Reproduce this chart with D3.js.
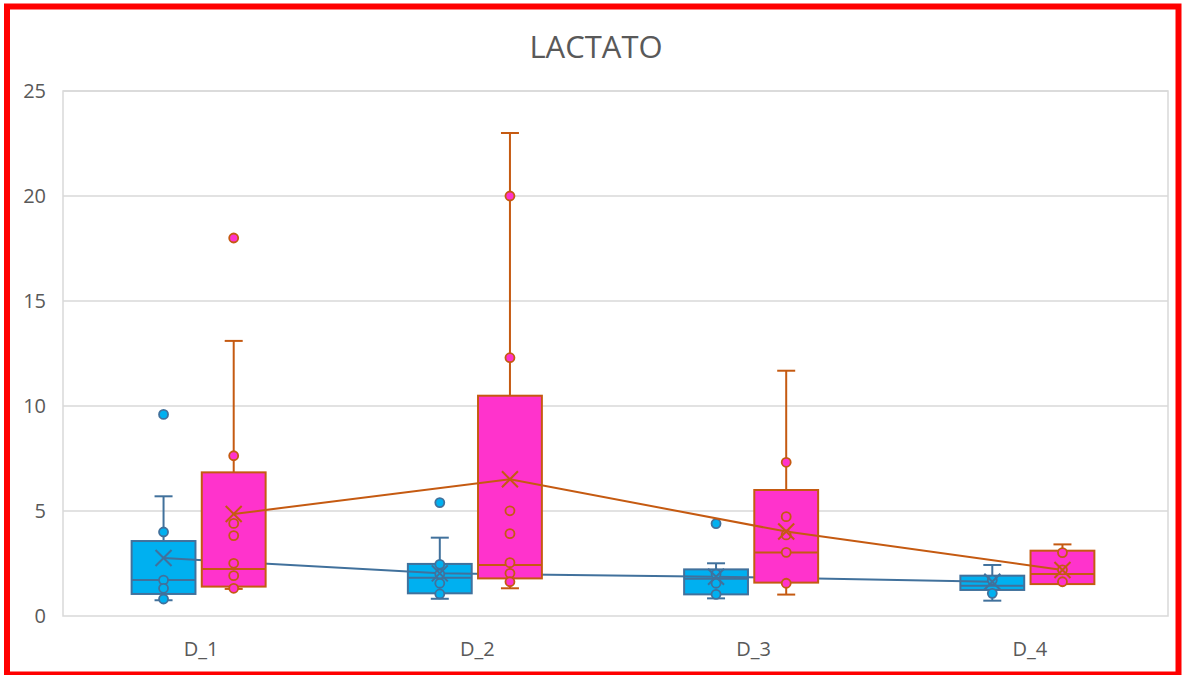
<!DOCTYPE html>
<html>
<head>
<meta charset="utf-8">
<script src="https://cdn.jsdelivr.net/npm/d3@7"></script>
<style>
  html, body { margin: 0; padding: 0; background: #fff; }
  svg { display: block; }
</style>
</head>
<body>
<svg id="chart" width="1184" height="675"></svg>
<script>
const title = "LACTATO";
const categories = ["D_1", "D_2", "D_3", "D_4"];
const yTicks = [0, 5, 10, 15, 20, 25];

// Series 1 (blue)
const blueQ1 = [1.05, 1.08, 1.03, 1.24];
const blueMedian = [1.71, 1.82, 1.77, 1.44];
const blueQ3 = [3.57, 2.48, 2.22, 1.92];
const blueWhiskerLow = [0.75, 0.82, 0.84, 0.73];
const blueWhiskerHigh = [5.7, 3.73, 2.51, 2.43];
const blueMean = [2.76, 2.03, 1.87, 1.63];
const bluePoints = [
  [9.6, 4.0, 1.71, 1.32, 0.81],
  [5.4, 2.46, 2.0, 1.56, 1.05],
  [4.4, 2.0, 1.56, 1.03],
  [1.71, 1.08]
];

// Series 2 (pink)
const pinkQ1 = [1.40, 1.79, 1.59, 1.52];
const pinkMedian = [2.24, 2.43, 3.02, 2.0];
const pinkQ3 = [6.84, 10.49, 6.0, 3.11];
const pinkWhiskerLow = [1.29, 1.32, 1.02, 1.55];
const pinkWhiskerHigh = [13.1, 23.0, 11.68, 3.41];
const pinkMean = [4.86, 6.51, 4.02, 2.19];
const pinkPoints = [
  [18.0, 7.63, 4.41, 3.83, 2.51, 1.92, 1.32],
  [20.0, 12.3, 5.01, 3.92, 2.54, 2.03, 1.63],
  [7.32, 4.73, 3.86, 3.03, 1.56],
  [3.02, 2.2, 1.63]
];

const series = [
  { key: "s1", fill: "#00B0F0", stroke: "#41719C", q1: blueQ1, med: blueMedian, q3: blueQ3, lo: blueWhiskerLow, hi: blueWhiskerHigh, mean: blueMean, pts: bluePoints },
  { key: "s2", fill: "#FF33CC", stroke: "#C55A11", q1: pinkQ1, med: pinkMedian, q3: pinkQ3, lo: pinkWhiskerLow, hi: pinkWhiskerHigh, mean: pinkMean, pts: pinkPoints }
];

const svg = d3.select("#chart");
const W = 1184, H = 675;
const plot = { left: 63, right: 1168, top: 91, bottom: 616 };
const font = "Open Sans, Noto Sans, sans-serif";

svg.append("rect").attr("x", 0).attr("y", 0).attr("width", W).attr("height", H).attr("fill", "#fff");

const x = d3.scaleBand().domain(categories).range([plot.left, plot.right]).padding(0);
const y = d3.scaleLinear().domain([0, 25]).range([plot.bottom, plot.top]);
const inner = d3.scaleBand().domain(series.map(s => s.key)).range([-69.5, 64.5]).paddingInner(0.09);
const bw = inner.bandwidth();

// gridlines
svg.append("g").selectAll("line").data(yTicks.filter(t => t > 0)).join("line")
  .attr("x1", plot.left).attr("x2", plot.right)
  .attr("y1", d => y(d)).attr("y2", d => y(d))
  .attr("stroke", "#D9D9D9").attr("stroke-width", 1.5);

// plot area border
svg.append("rect")
  .attr("x", plot.left).attr("y", plot.top)
  .attr("width", plot.right - plot.left).attr("height", plot.bottom - plot.top)
  .attr("fill", "none").attr("stroke", "#D9D9D9").attr("stroke-width", 1.5);

// y axis labels
const yAxis = d3.axisLeft(y).tickValues(yTicks).tickSize(0).tickPadding(17).tickFormat(d3.format("d"));
const ga = svg.append("g").attr("transform", `translate(${plot.left},0)`).call(yAxis);
ga.select(".domain").remove();
ga.selectAll("text").attr("font-family", font).attr("font-size", 20).attr("fill", "#595959");

// x axis labels
const xAxis = d3.axisBottom(x).tickSize(0).tickPadding(26);
const gx = svg.append("g").attr("transform", `translate(0,${plot.bottom})`).call(xAxis);
gx.select(".domain").remove();
gx.selectAll("text").attr("font-family", font).attr("font-size", 20).attr("fill", "#595959");

// series
series.forEach(s => {
  const g = svg.append("g");
  const cx = i => x(categories[i]) + x.bandwidth() / 2 + inner(s.key) + bw / 2;
  const idx = d3.range(categories.length);

  // whiskers
  g.selectAll(".wh").data(idx).join("line")
    .attr("x1", cx).attr("x2", cx)
    .attr("y1", i => y(s.hi[i])).attr("y2", i => y(s.q3[i]))
    .attr("stroke", s.stroke).attr("stroke-width", 2);
  g.selectAll(".wl").data(idx).join("line")
    .attr("x1", cx).attr("x2", cx)
    .attr("y1", i => y(s.lo[i])).attr("y2", i => y(s.q1[i]))
    .attr("stroke", s.stroke).attr("stroke-width", 2);
  // caps
  [s.hi, s.lo].forEach(arr => {
    g.selectAll(null).data(idx).join("line")
      .attr("x1", i => cx(i) - 9).attr("x2", i => cx(i) + 9)
      .attr("y1", i => y(arr[i])).attr("y2", i => y(arr[i]))
      .attr("stroke", s.stroke).attr("stroke-width", 2);
  });
  // boxes
  g.selectAll(null).data(idx).join("rect")
    .attr("x", i => cx(i) - bw / 2).attr("width", bw)
    .attr("y", i => y(s.q3[i])).attr("height", i => y(s.q1[i]) - y(s.q3[i]))
    .attr("fill", s.fill).attr("stroke", s.stroke).attr("stroke-width", 2);
  // medians
  g.selectAll(null).data(idx).join("line")
    .attr("x1", i => cx(i) - bw / 2).attr("x2", i => cx(i) + bw / 2)
    .attr("y1", i => y(s.med[i])).attr("y2", i => y(s.med[i]))
    .attr("stroke", s.stroke).attr("stroke-width", 2);
  // mean line
  const line = d3.line().x(i => cx(i)).y(i => y(s.mean[i]));
  g.append("path").attr("d", line(idx))
    .attr("fill", "none").attr("stroke", s.stroke).attr("stroke-width", 2);
  // points
  const pts = [];
  s.pts.forEach((arr, i) => arr.forEach(v => pts.push({ i, v })));
  g.selectAll(null).data(pts).join("circle")
    .attr("cx", d => cx(d.i)).attr("cy", d => y(d.v)).attr("r", 4.5)
    .attr("fill", s.fill).attr("stroke", s.stroke).attr("stroke-width", 1.8);
  // mean markers
  g.selectAll(null).data(idx).join("path")
    .attr("d", i => {
      const px = cx(i), py = y(s.mean[i]), r = 8;
      return `M${px - r},${py - r}L${px + r},${py + r}M${px - r},${py + r}L${px + r},${py - r}`;
    })
    .attr("stroke", s.stroke).attr("stroke-width", 2).attr("fill", "none");
});

// title
svg.append("text").attr("x", 596).attr("y", 58).attr("text-anchor", "middle")
  .attr("font-family", font).attr("font-size", 31)
  .attr("fill", "#595959").text(title);

// red frame
svg.append("rect").attr("x", 7).attr("y", 6.5).attr("width", 1171.5).attr("height", 668)
  .attr("fill", "none").attr("stroke", "#FF0000").attr("stroke-width", 6);
</script>
</body>
</html>
